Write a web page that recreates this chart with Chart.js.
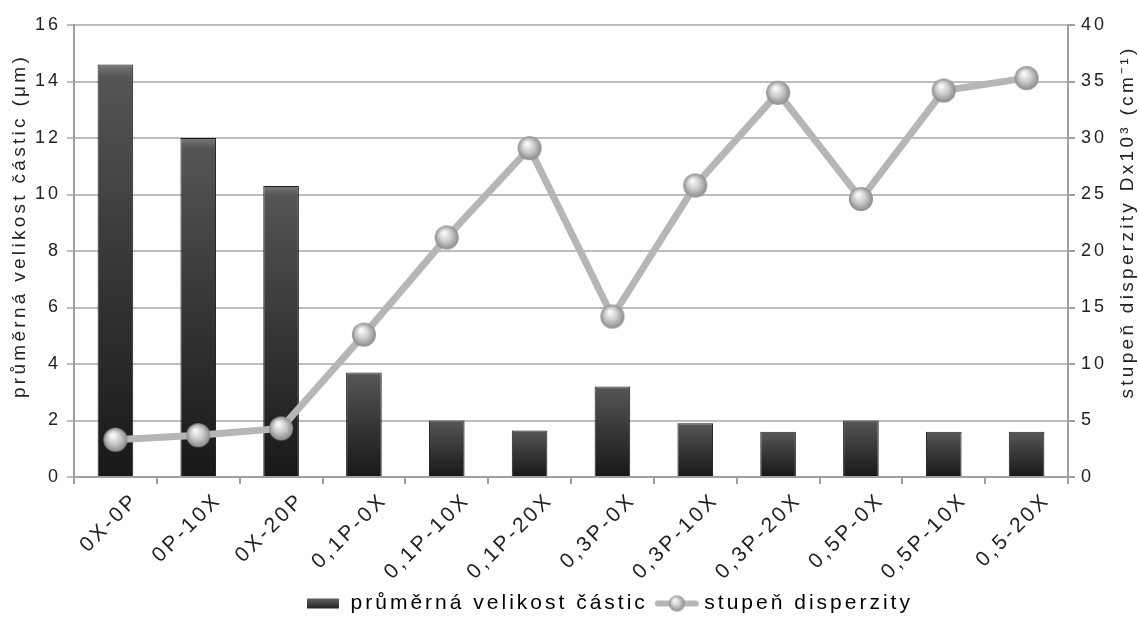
<!DOCTYPE html>
<html><head><meta charset="utf-8">
<script src="https://cdn.jsdelivr.net/npm/chart.js@4/dist/chart.umd.min.js"></script>
<style>html,body{margin:0;padding:0;background:#fff}#wrap{width:1139px;height:630px}</style>
</head><body><div id="wrap"><canvas id="c"></canvas></div>
<script>
const categories = ["0X-0P","0P-10X","0X-20P","0,1P-0X","0,1P-10X","0,1P-20X","0,3P-0X","0,3P-10X","0,3P-20X","0,5P-0X","0,5P-10X","0,5-20X"];
const particleSize = [14.6, 12.0, 10.3, 3.7, 2.0, 1.65, 3.2, 1.9, 1.6, 2.0, 1.6, 1.6];
const dispersity = [3.3, 3.7, 4.3, 12.6, 21.2, 29.1, 14.2, 25.8, 34.0, 24.6, 34.2, 35.3];
const leftTicks = {min:0, max:16, step:2};
const rightTicks = {min:0, max:40, step:5};
const sizeLabel = "průměrná velikost částic";
const dispLabel = "stupeň disperzity";
const leftTitle = "průměrná velikost částic (μm)";
const rightTitle = "stupeň disperzity Dx10³ (cm⁻¹)";

const FONT = "'Liberation Sans', Arial, sans-serif";
const SPACING = '3px';

function sphere(r){
  const c = document.createElement('canvas');
  c.width = c.height = r*2+2;
  const g = c.getContext('2d');
  const grd = g.createRadialGradient(r*0.85, r*0.7, r*0.1, r+1, r+1, r);
  grd.addColorStop(0, '#f8f8f8');
  grd.addColorStop(0.45, '#cfcfcf');
  grd.addColorStop(1, '#8a8a8a');
  g.fillStyle = grd;
  g.beginPath(); g.arc(r+1, r+1, r, 0, Math.PI*2); g.fill();
  return c;
}
const ball = sphere(12);
function legendLine(){
  const c = document.createElement('canvas');
  c.width = 46; c.height = 20;
  const g = c.getContext('2d');
  g.strokeStyle = '#b5b6b8'; g.lineWidth = 6; g.lineCap='round';
  g.beginPath(); g.moveTo(4,10); g.lineTo(42,10); g.stroke();
  const s = sphere(8);
  g.drawImage(s, 23-9, 10-9);
  return c;
}
function legendBar(){
  const c = document.createElement('canvas');
  c.width = 32; c.height = 12;
  const g = c.getContext('2d');
  const grd = g.createLinearGradient(0,0,0,12);
  grd.addColorStop(0,'#6a6a6a'); grd.addColorStop(1,'#1b1b1b');
  g.fillStyle = grd; g.fillRect(0,1,32,10);
  return c;
}

const spacingPlugin = {
  id: 'spacing',
  beforeUpdate(chart){ chart.ctx.letterSpacing = SPACING; },
  beforeLayout(chart){ chart.ctx.letterSpacing = SPACING; },
  beforeDraw(chart){
    chart.ctx.letterSpacing = SPACING;
    const lg = chart.legend;
    if (lg) { lg.left = 80; lg.right = chart.width; }
  }
};
const titlePlugin = {
  id: 'axisTitles',
  afterDraw(chart){
    const ctx = chart.ctx;
    const draw = (text, x, y) => {
      ctx.save();
      ctx.font = `19px ${FONT}`;
      ctx.letterSpacing = '3.3px';
      ctx.fillStyle = '#222';
      ctx.textAlign = 'center';
      ctx.textBaseline = 'middle';
      ctx.translate(x, y);
      ctx.rotate(-Math.PI/2);
      ctx.fillText(text, 0, 0);
      ctx.restore();
    };
    draw(leftTitle, 20, 226);
    draw(rightTitle, 1128, 222);
  }
};

new Chart(document.getElementById('c'), {
  plugins: [spacingPlugin, titlePlugin],
  data: {
    labels: categories,
    datasets: [
      {
        type: 'bar', label: sizeLabel, data: particleSize, yAxisID: 'y', order: 2,
        barPercentage: 0.43, categoryPercentage: 1,
        borderColor: '#1a1a1a', borderWidth: 1,
        backgroundColor: (ctx) => {
          const ch = ctx.chart; const area = ch.chartArea;
          if (!area || ctx.parsed === undefined) return '#333';
          const yTop = ch.scales.y.getPixelForValue(ctx.parsed.y);
          const g = ch.ctx.createLinearGradient(0, yTop, 0, area.bottom);
          g.addColorStop(0, '#7a7a7a');
          g.addColorStop(0.03, '#555555');
          g.addColorStop(0.5, '#363636');
          g.addColorStop(1, '#181818');
          return g;
        }
      },
      {
        type: 'line', label: dispLabel, data: dispersity, yAxisID: 'y2', order: 1,
        borderColor: '#b5b6b8', borderWidth: 7, tension: 0,
        pointStyle: ball, pointRadius: 12, pointHoverRadius: 12
      }
    ]
  },
  options: {
    responsive: true, maintainAspectRatio: false, animation: false,
    layout: { padding: { top: 25, bottom: 6, left: 0, right: 0 } },
    plugins: {
      tooltip: { enabled: false },
      legend: {
        position: 'bottom',
        labels: {
          font: { family: FONT, size: 21 }, color: '#222', usePointStyle: true, pointStyleWidth: 34, padding: 12,
          generateLabels: (chart) => [
            { text: sizeLabel, pointStyle: legendBar(), fillStyle:'#333', strokeStyle:'#333', lineWidth:0, datasetIndex:0 },
            { text: dispLabel, pointStyle: legendLine(), fillStyle:'#bbb', strokeStyle:'#bbb', lineWidth:0, datasetIndex:1 }
          ]
        }
      }
    },
    scales: {
      x: {
        offset: true,
        grid: { drawOnChartArea: false, offset: true, tickLength: 7, color: '#a0a0a0', lineWidth: 2 },
        border: { color: '#a0a0a0', width: 2 },
        ticks: { font: { family: FONT, size: 21 }, color: '#222', minRotation: 45, maxRotation: 45, padding: 4, labelOffset: 20 },
        afterFit: (s) => { s.height = 104; }
      },
      y: {
        position: 'left', min: leftTicks.min, max: leftTicks.max,
        ticks: { stepSize: leftTicks.step, font: { family: FONT, size: 18 }, color: '#222', padding: 6 },
        grid: { color: '#bdbdbd', lineWidth: 2, tickLength: 7 },
        border: { color: '#a0a0a0', width: 2 },
        afterFit: (s) => { s.width = 74; }
      },
      y2: {
        position: 'right', min: rightTicks.min, max: rightTicks.max,
        ticks: { stepSize: rightTicks.step, font: { family: FONT, size: 18 }, color: '#222', padding: 6 },
        grid: { drawOnChartArea: false, color: '#a0a0a0', lineWidth: 2, tickLength: 7 },
        border: { color: '#a0a0a0', width: 2 },
        afterFit: (s) => { s.width = 71; }
      }
    }
  }
});
</script>
</body></html>
